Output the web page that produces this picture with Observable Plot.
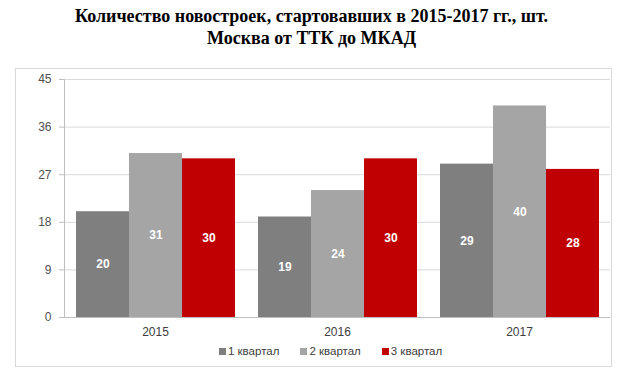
<!DOCTYPE html>
<html>
<head>
<meta charset="utf-8">
<script src="https://cdn.jsdelivr.net/npm/d3@7"></script>
<script src="https://cdn.jsdelivr.net/npm/@observablehq/plot@0.6"></script>
<style>
  html, body { margin: 0; padding: 0; background: #fff; }
  #wrap { position: relative; width: 637px; height: 390px; overflow: hidden; }
  #title { position: absolute; left: 0; top: 5px; width: 623px; text-align: center;
    font-family: "Liberation Serif", "Times New Roman", serif; font-weight: bold; font-size: 18px;
    line-height: 22px; color: #000; }
  #box { position: absolute; left: 15px; top: 68px; width: 597px; height: 299px; box-sizing: border-box;
    border: 1px solid #d9d9d9; }
  #chart { position: absolute; left: 0; top: 60px; }
  #legend { position: absolute; left: 219px; top: 345px; font-family: "Liberation Sans", Arial, sans-serif;
    font-size: 11.5px; color: #404040; display: flex; gap: 21px; white-space: nowrap; }
  #legend span.item { display: flex; align-items: center; }
  #legend span.sw { display: inline-block; width: 7px; height: 7px; margin-right: 2px; }
</style>
</head>
<body>
<div id="wrap">
  <div id="title"></div>
  <div id="box"></div>
  <div id="chart"></div>
  <div id="legend"></div>
</div>
<script>
const titleLines = ["Количество новостроек, стартовавших в 2015-2017 гг., шт.", "Москва от ТТК до МКАД"];
const years = ["2015", "2016", "2017"];
const quarters = ["1 квартал", "2 квартал", "3 квартал"];
const q1 = [20, 19, 29];
const q2 = [31, 24, 40];
const q3 = [30, 30, 28];
const yTicks = [0, 9, 18, 27, 36, 45];
const colors = ["#7f7f7f", "#a5a5a5", "#c00000"];

const series = [q1, q2, q3];
const data = [];
years.forEach((y, i) => quarters.forEach((q, j) => data.push({year: y, q, v: series[j][i]})));

document.getElementById("title").innerHTML = titleLines.join("<br>");

const plot = Plot.plot({
  width: 637,
  height: 285,
  marginTop: 19,
  marginBottom: 28,
  marginLeft: 63,
  marginRight: 27,
  style: {fontFamily: "Liberation Sans, Arial, sans-serif", fontSize: "12px", color: "#595959", background: "transparent"},
  fx: {domain: years, padding: 0, label: null},
  x: {domain: quarters, paddingInner: 0, paddingOuter: 0.2, axis: null},
  y: {domain: [0, 45], label: null},
  color: {domain: quarters, range: colors},
  marks: [
    Plot.ruleY(yTicks.filter(d => d > 0), {stroke: "#d9d9d9"}),
    Plot.barY(data, {fx: "year", x: "q", y: "v", fill: "q"}),
    Plot.text(data, {fx: "year", x: "q", y: d => d.v / 2, text: d => String(d.v), fill: "white",
      fontWeight: "bold", fontSize: 12}),
    Plot.ruleY([0], {stroke: "#bfbfbf"}),
    Plot.frame({anchor: "left", stroke: "#bfbfbf", fx: () => years[0]}),
    Plot.axisY({ticks: yTicks, tickSize: 5, tickPadding: 8, stroke: "#bfbfbf", fill: "#505050", label: null}),
    Plot.axisFx({anchor: "bottom", tickSize: 0, tickPadding: 10, fill: "#404040", label: null})
  ]
});
document.getElementById("chart").appendChild(plot);

const legend = document.getElementById("legend");
quarters.forEach((q, i) => {
  const item = document.createElement("span");
  item.className = "item";
  const sw = document.createElement("span");
  sw.className = "sw";
  sw.style.background = colors[i];
  item.appendChild(sw);
  item.appendChild(document.createTextNode(q));
  legend.appendChild(item);
});
</script>
</body>
</html>
